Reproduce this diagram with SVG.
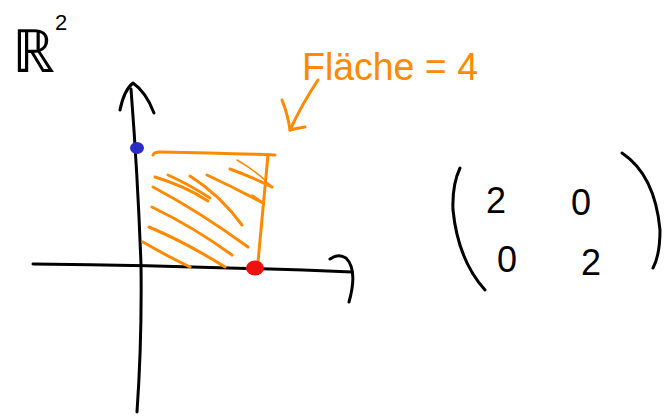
<svg xmlns="http://www.w3.org/2000/svg" width="672" height="419" viewBox="0 0 672 419">
<style>
.ink{fill:none;stroke:#000;stroke-width:3;stroke-linecap:round;stroke-linejoin:round}
.or{fill:none;stroke:#FF8A00;stroke-width:3;stroke-linecap:round;stroke-linejoin:round}
.thin{stroke-width:1.5}
.blk{font-family:"Liberation Sans",Arial,sans-serif;fill:#000}
.otx{font-family:"Liberation Sans",Arial,sans-serif;fill:#FF8A00}
</style>
<rect width="672" height="419" fill="#fff"/>
<g id="label-R2">
<text class="blk" x="12" y="72" font-size="60">ℝ<tspan x="55" y="30" font-size="22">2</tspan></text>
</g>
<g id="axes">
<path class="ink" d="M131,89 Q138,180 141,265 Q142,340 137,412"/>
<path class="ink" d="M120,110 Q124,90 133,83 Q146,92 154,113"/>
<path class="ink" d="M33,264 Q200,266 352,272"/>
<path class="ink" d="M330,259 Q338,253 346,258 Q358,270 349,302"/>
</g>
<g id="square">
<path class="or" d="M153,155 Q154,152 160,152 Q220,153 275,155"/>
<path class="or" d="M268,155 Q263,210 258,262"/>
<path class="or" d="M155,177 Q185,186 208,201"/>
<path class="or" d="M168,175 Q190,185 210,198"/>
<path class="or" d="M190,176 Q220,195 242,225"/>
<path class="or" d="M153,187 Q200,212 248,247"/>
<path class="or" d="M152,207 Q195,228 232,255"/>
<path class="or" d="M149,227 Q185,242 225,267"/>
<path class="or" d="M143,242 Q165,255 190,267"/>
<path class="or" d="M207,175 Q235,188 263,203"/>
<path class="or" d="M230,169 Q252,177 272,187"/>
<path class="or thin" d="M237,160 Q255,170 270,185"/>
<path class="or thin" d="M252,195 Q258,198 264,204"/>
</g>
<g id="points">
<ellipse cx="137" cy="148" rx="7" ry="6" fill="#2B2BC8"/>
<ellipse cx="255" cy="268" rx="9" ry="7.5" fill="#F01010"/>
</g>
<g id="area-label">
<text class="otx" x="302" y="80" font-size="38" textLength="176" lengthAdjust="spacingAndGlyphs">Fläche = 4</text>
<path class="or" d="M318,80 Q302,104 290,130"/>
<path class="or" d="M282,100 Q288,115 290,130 Q298,128 305,127"/>
</g>
<g id="matrix">
<path class="ink" d="M460,168 Q452,185 453,210 Q458,260 485,290"/>
<path class="ink" d="M622,153 Q655,175 660,230 Q660,255 653,268"/>
<text class="blk" x="486" y="213" font-size="36">2</text>
<text class="blk" x="571" y="215" font-size="36">0</text>
<text class="blk" x="497" y="272" font-size="36">0</text>
<text class="blk" x="581" y="275" font-size="36">2</text>
</g>
</svg>
